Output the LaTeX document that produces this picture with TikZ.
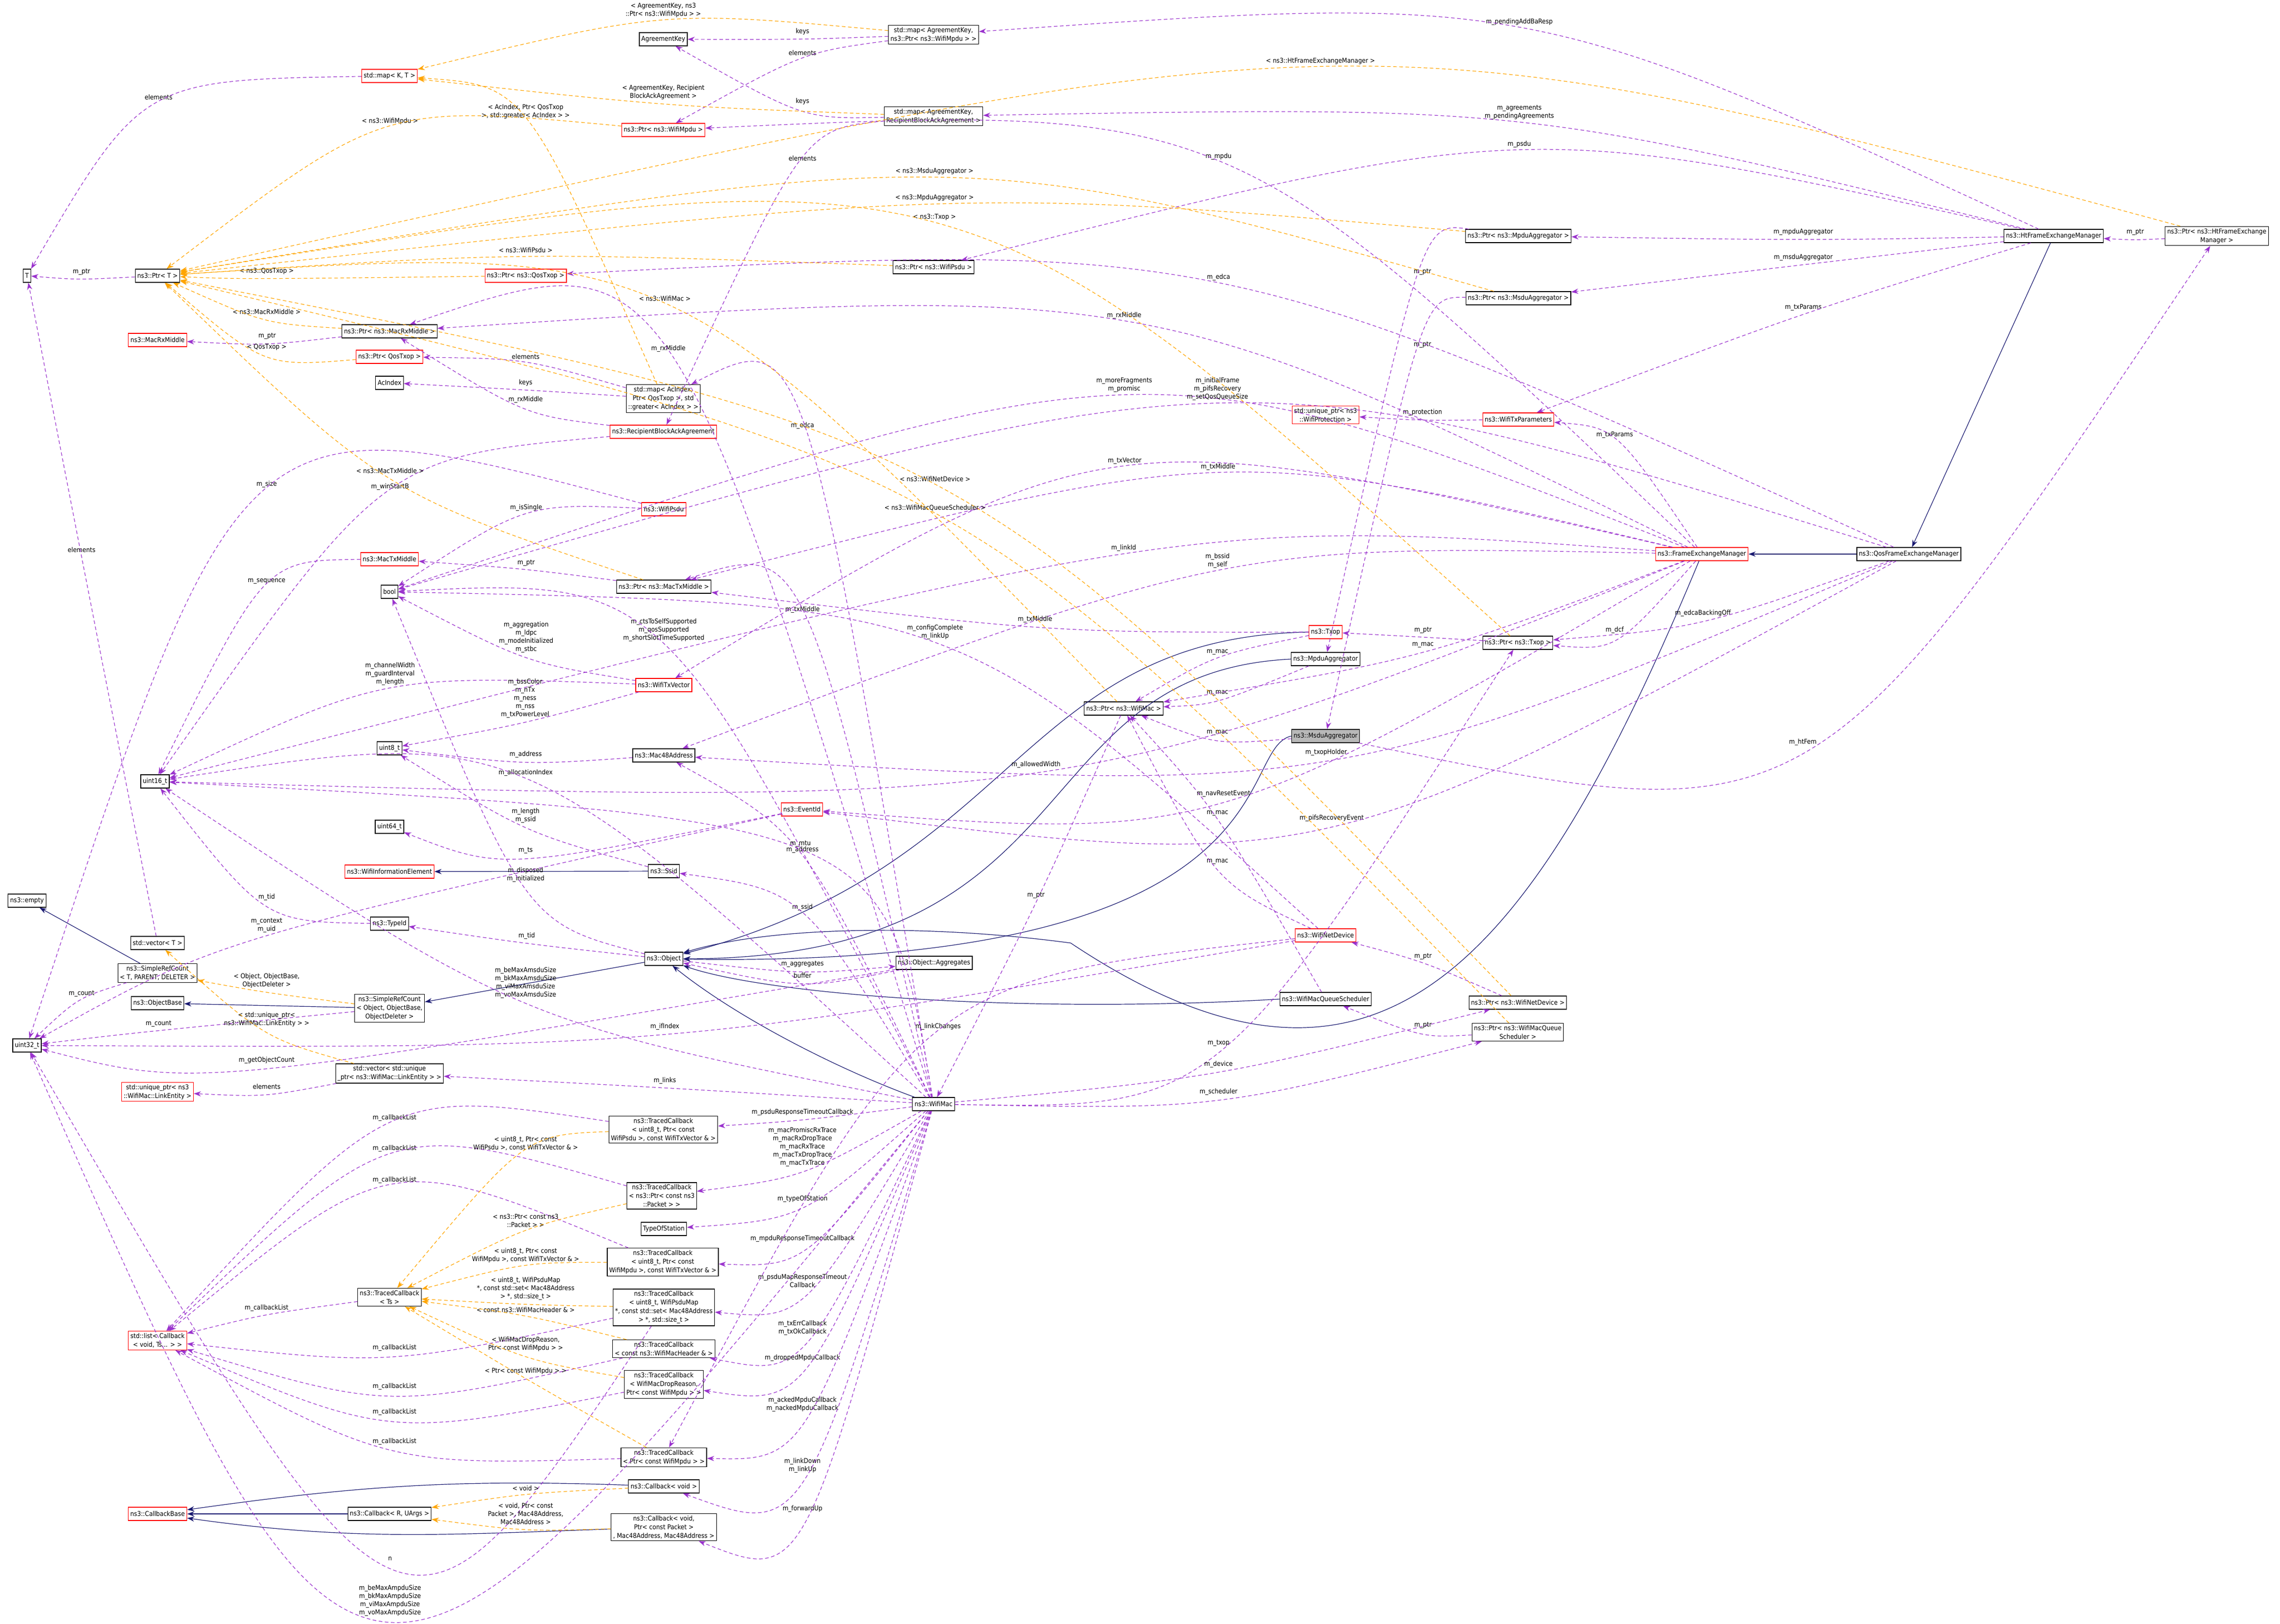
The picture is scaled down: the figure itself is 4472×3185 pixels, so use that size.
\documentclass[tikz,border=0pt]{standalone}
\usepackage{fontspec}
\setmainfont{DejaVu Sans Condensed}
\usetikzlibrary{arrows.meta,calc}
\definecolor{pcol}{HTML}{9A32CD}
\definecolor{ocol}{HTML}{FFA500}
\definecolor{ncol}{HTML}{191970}
\tikzset{
 box/.style={draw=black,line width=1.2pt,fill=white,inner sep=4pt,minimum height=26pt,align=center,font=\fontsize{13}{17}\selectfont},
 rbox/.style={box,draw=red},
 lbl/.style={align=center,inner sep=1pt,font=\fontsize{13}{16}\selectfont},
 pe/.style={draw=pcol,line width=1.2pt,dash pattern=on 7pt off 5pt,-{Stealth[length=14pt,width=10pt]}},
 oe/.style={draw=ocol,line width=1.2pt,dash pattern=on 7pt off 5pt,-{Stealth[length=14pt,width=10pt]}},
 ie/.style={draw=ncol,line width=1.2pt,-{Stealth[length=14pt,width=10pt]}},
}
\newcommand\mylink[5]{%
 \node[lbl] (lb) at (#4) {#5};
 \draw[#1] (#2) .. controls ($1.33333*(lb.south)+(0,9)-0.166667*(#2)-0.166667*(#3)$) .. (#3);
}
\begin{document}
\begin{tikzpicture}[x=1pt,y=-1pt]
\useasboundingbox (0,0) rectangle (4472,3185);
% nodes
\node[box] (T) at (53,541) {T};
\node[box] (PtrT) at (309,541) {ns3::Ptr< T >};
\node[rbox] (mapKT) at (764,149) {std::map< K, T >};
\node[box] (AgKey) at (1301,77) {AgreementKey};
\node[box] (mapAKM) at (1831,68) {std::map< AgreementKey,\\ ns3::Ptr< ns3::WifiMpdu > >};
\node[box] (mapAKR) at (1831,228) {std::map< AgreementKey,\\ RecipientBlockAckAgreement >};
\node[rbox] (PtrMpdu) at (1301,255) {ns3::Ptr< ns3::WifiMpdu >};
\node[box] (PtrMpduAgg) at (2978,463) {ns3::Ptr< ns3::MpduAggregator >};
\node[box] (PtrMsduAgg) at (2978,585) {ns3::Ptr< ns3::MsduAggregator >};
\node[box] (HtFEM) at (4028,463) {ns3::HtFrameExchangeManager};
\node[box] (PtrHtFEM) at (4348,463) {ns3::Ptr< ns3::HtFrameExchange\\ Manager >};
\node[rbox] (TxParams) at (2978,823) {ns3::WifiTxParameters};
\node[rbox] (uProt) at (2600,814) {std::unique\_ptr< ns3\\ ::WifiProtection >};
\node[box] (PtrPsdu) at (1831,524) {ns3::Ptr< ns3::WifiPsdu >};
\node[rbox] (PtrQos) at (1031,541) {ns3::Ptr< ns3::QosTxop >};
\node[box] (PtrRx) at (764,650) {ns3::Ptr< ns3::MacRxMiddle >};
\node[rbox] (Rx) at (309,667) {ns3::MacRxMiddle};
\node[rbox] (PtrQos2) at (764,700) {ns3::Ptr< QosTxop >};
\node[box] (AcIndex) at (764,751) {AcIndex};
\node[box] (mapAc) at (1301,782) {std::map< AcIndex,\\ Ptr< QosTxop >, std\\ ::greater< AcIndex > >};
\node[rbox] (RBA) at (1301,847) {ns3::RecipientBlockAckAgreement};
\node[rbox] (Psdu) at (1302,999) {ns3::WifiPsdu};
\node[rbox] (TxM) at (764,1097) {ns3::MacTxMiddle};
\node[box] (bool) at (764,1161) {bool};
\node[box] (PtrTx) at (1302,1151) {ns3::Ptr< ns3::MacTxMiddle >};
\node[rbox] (TxVec) at (1302,1344) {ns3::WifiTxVector};
\node[box] (u8) at (764,1468) {uint8\_t};
\node[box] (Mac48) at (1302,1482) {ns3::Mac48Address};
\node[box] (u16) at (304,1533) {uint16\_t};
\node[box] (u64) at (764,1622) {uint64\_t};
\node[rbox] (WIE) at (764,1710) {ns3::WifiInformationElement};
\node[box] (Ssid) at (1302,1709) {ns3::Ssid};
\node[box] (empty) at (53,1767) {ns3::empty};
\node[box] (TypeId) at (764,1812) {ns3::TypeId};
\node[box] (vecT) at (309,1850) {std::vector< T >};
\node[box] (SRCT) at (309,1909) {ns3::SimpleRefCount\\ < T, PARENT, DELETER >};
\node[box] (Obj) at (1302,1881) {ns3::Object};
\node[box] (ObjBase) at (309,1968) {ns3::ObjectBase};
\node[box] (SRCO) at (764,1978) {ns3::SimpleRefCount\\ < Object, ObjectBase,\\ ObjectDeleter >};
\node[box] (u32) at (53,2051) {uint32\_t};
\node[box] (vecU) at (764,2106) {std::vector< std::unique\\ \_ptr< ns3::WifiMac::LinkEntity > >};
\node[rbox] (uLE) at (309,2142) {std::unique\_ptr< ns3\\ ::WifiMac::LinkEntity >};
\node[box] (TCpsdu) at (1301,2216) {ns3::TracedCallback\\ < uint8\_t, Ptr< const\\ WifiPsdu >, const WifiTxVector \& >};
\node[box] (TCpkt) at (1298,2346) {ns3::TracedCallback\\ < ns3::Ptr< const ns3\\ ::Packet > >};
\node[box] (TOS) at (1302,2411) {TypeOfStation};
\node[box] (TCmpdu) at (1300,2476) {ns3::TracedCallback\\ < uint8\_t, Ptr< const\\ WifiMpdu >, const WifiTxVector \& >};
\node[box] (TCTs) at (764,2545) {ns3::TracedCallback\\ < Ts >};
\node[box] (TCmap) at (1302,2565) {ns3::TracedCallback\\ < uint8\_t, WifiPsduMap\\ *, const std::set< Mac48Address\\ > *, std::size\_t >};
\node[rbox] (list) at (309,2630) {std::list< Callback\\ < void, Ts... > >};
\node[box] (TChdr) at (1302,2646) {ns3::TracedCallback\\ < const ns3::WifiMacHeader \& >};
\node[box] (TCdrop) at (1302,2716) {ns3::TracedCallback\\ < WifiMacDropReason,\\ Ptr< const WifiMpdu > >};
\node[box] (TCptr) at (1302,2859) {ns3::TracedCallback\\ < Ptr< const WifiMpdu > >};
\node[box] (CbVoid) at (1302,2916) {ns3::Callback< void >};
\node[rbox] (CbBase) at (309,2970) {ns3::CallbackBase};
\node[box] (CbRU) at (764,2970) {ns3::Callback< R, UArgs >};
\node[box] (CbPkt) at (1302,2996) {ns3::Callback< void,\\ Ptr< const Packet >\\ , Mac48Address, Mac48Address >};
\node[box] (WifiMac) at (1831,2166) {ns3::WifiMac};
\node[rbox] (Txop) at (2600,1240) {ns3::Txop};
\node[box] (MpduAgg) at (2600,1293) {ns3::MpduAggregator};
\node[box] (PtrMac) at (2204,1390) {ns3::Ptr< ns3::WifiMac >};
\node[box,fill=black!28] (MsduAgg) at (2600,1444) {ns3::MsduAggregator};
\node[rbox] (EventId) at (1573,1588) {ns3::EventId};
\node[box] (ObjAgg) at (1832,1889) {ns3::Object::Aggregates};
\node[rbox] (NetDev) at (2600,1835) {ns3::WifiNetDevice};
\node[box] (Sched) at (2600,1960) {ns3::WifiMacQueueScheduler};
\node[rbox] (FEM) at (3338,1087) {ns3::FrameExchangeManager};
\node[box] (QosFEM) at (3744,1087) {ns3::QosFrameExchangeManager};
\node[box] (PtrTxop) at (2977,1261) {ns3::Ptr< ns3::Txop >};
\node[box] (PtrND) at (2977,1967) {ns3::Ptr< ns3::WifiNetDevice >};
\node[box] (PtrSched) at (2977,2025) {ns3::Ptr< ns3::WifiMacQueue\\ Scheduler >};
% inheritance
\draw[ie] (SRCT) -- (empty);
\draw[ie] (SRCO) -- (ObjBase);
\draw[ie] (Obj) -- (SRCO);
\draw[ie] (Ssid) -- (WIE);
\draw[ie] (QosFEM) -- (FEM);
\draw[ie] (HtFEM) -- (QosFEM);
\draw[ie] (CbVoid) to[out=178,in=8] (CbBase);
\draw[ie] (CbRU) -- (CbBase);
\draw[ie] (CbPkt) to[out=182,in=-8] (CbBase);
\draw[ie] (Txop.west) .. controls (2000,1250) and (2000,1700) .. (Obj);
\draw[ie] (MpduAgg.west) .. controls (2000,1320) and (2150,1880) .. (Obj);
\draw[ie] (MsduAgg.west) .. controls (2420,1470) and (2550,1900) .. (Obj);
\draw[ie] (Sched.west) .. controls (2000,1990) and (1500,1950) .. (Obj);
\draw[ie] (WifiMac) .. controls (1650,2100) and (1450,2000) .. (Obj);
\draw[ie] (FEM) .. controls (3000,1900) and (2700,2250) .. (2100,1850) .. controls (1800,1810) and (1500,1820) .. (Obj);
% purple members
\mylink{pe}{PtrT}{T}{160,533}{m\_ptr}
\mylink{pe}{mapKT}{T}{311,191}{elements}
\mylink{pe}{vecT}{T}{160,1079}{elements}
\mylink{pe}{PtrRx}{Rx}{524,659}{m\_ptr}
\mylink{pe}{mapAKM}{AgKey}{1574,62}{keys}
\mylink{pe}{mapAKM}{PtrMpdu}{1574,104}{elements}
\mylink{pe}{mapAKR}{AgKey}{1574,199}{keys}
\mylink{pe}{mapAKR}{RBA}{1574,311}{elements}
\mylink{pe}{HtFEM}{mapAKM}{2980,43}{m\_pendingAddBaResp}
\mylink{pe}{HtFEM}{mapAKR}{2980,220}{m\_agreements\\m\_pendingAgreements}
\mylink{pe}{HtFEM}{PtrPsdu}{2980,283}{m\_psdu}
\mylink{pe}{FEM}{PtrMpdu}{2390,307}{m\_mpdu}
\mylink{pe}{HtFEM}{PtrMpduAgg}{3537,455}{m\_mpduAggregator}
\mylink{pe}{HtFEM}{PtrMsduAgg}{3537,505}{m\_msduAggregator}
\mylink{pe}{HtFEM}{TxParams}{3537,603}{m\_txParams}
\mylink{pe}{PtrHtFEM}{HtFEM}{4188,455}{m\_ptr}
\mylink{pe}{MsduAgg}{PtrHtFEM}{3536,1456}{m\_htFem}
\mylink{pe}{PtrMpduAgg}{MpduAgg}{2790,533}{m\_ptr}
\mylink{pe}{PtrMsduAgg}{MsduAgg}{2790,676}{m\_ptr}
\mylink{pe}{TxParams}{uProt}{2790,809}{m\_protection}
\mylink{pe}{FEM}{TxParams}{3167,853}{m\_txParams}
\mylink{pe}{QosFEM}{PtrQos}{2390,544}{m\_edca}
\mylink{pe}{FEM}{PtrRx}{2205,619}{m\_rxMiddle}
\mylink{pe}{mapAc}{PtrQos2}{1031,700}{elements}
\mylink{pe}{mapAc}{AcIndex}{1031,751}{keys}
\mylink{pe}{RBA}{PtrRx}{1031,784}{m\_rxMiddle}
\mylink{pe}{WifiMac}{PtrRx}{1311,684}{m\_rxMiddle}
\mylink{pe}{WifiMac}{mapAc}{1574,835}{m\_edca}
\mylink{pe}{FEM}{bool}{2205,755}{m\_moreFragments\\m\_promisc}
\mylink{pe}{QosFEM}{bool}{2388,763}{m\_initialFrame\\m\_pifsRecovery\\m\_setQosQueueSize}
\mylink{pe}{FEM}{TxVec}{2206,904}{m\_txVector}
\mylink{pe}{FEM}{PtrTx}{2389,916}{m\_txMiddle}
\mylink{pe}{RBA}{u16}{765,955}{m\_winStartB}
\mylink{pe}{Psdu}{u32}{523,950}{m\_size}
\mylink{pe}{Psdu}{bool}{1032,996}{m\_isSingle}
\mylink{pe}{TxM}{u16}{523,1140}{m\_sequence}
\mylink{pe}{PtrTx}{TxM}{1032,1104}{m\_ptr}
\mylink{pe}{TxVec}{bool}{1032,1250}{m\_aggregation\\m\_ldpc\\m\_modeInitialized\\m\_stbc}
\mylink{pe}{TxVec}{u16}{765,1322}{m\_channelWidth\\m\_guardInterval\\m\_length}
\mylink{pe}{TxVec}{u8}{1030,1370}{m\_bssColor\\m\_nTx\\m\_ness\\m\_nss\\m\_txPowerLevel}
\mylink{pe}{WifiMac}{bool}{1302,1236}{m\_ctsToSelfSupported\\m\_qosSupported\\m\_shortSlotTimeSupported}
\mylink{pe}{Mac48}{u8}{1031,1480}{m\_address}
\mylink{pe}{WifiMac}{u16}{1031,1516}{m\_allocationIndex}
\mylink{pe}{Ssid}{u8}{1031,1600}{m\_length\\m\_ssid}
\mylink{pe}{EventId}{u64}{1031,1668}{m\_ts}
\mylink{pe}{Obj}{bool}{1031,1716}{m\_disposed\\m\_initialized}
\mylink{pe}{TypeId}{u16}{523,1760}{m\_tid}
\mylink{pe}{Obj}{TypeId}{1033,1836}{m\_tid}
\mylink{pe}{EventId}{u32}{523,1815}{m\_context\\m\_uid}
\mylink{pe}{SRCT}{u32}{160,1949}{m\_count}
\mylink{pe}{SRCO}{u32}{311,2008}{m\_count}
\mylink{pe}{WifiMac}{u16}{1031,1928}{m\_beMaxAmsduSize\\m\_bkMaxAmsduSize\\m\_viMaxAmsduSize\\m\_voMaxAmsduSize}
\mylink{pe}{ObjAgg}{u32}{523,2080}{m\_getObjectCount}
\mylink{pe}{vecU}{uLE}{523,2132}{elements}
\mylink{pe}{WifiMac}{vecU}{1304,2120}{m\_links}
\mylink{pe}{NetDev}{u32}{1304,2014}{m\_ifIndex}
\mylink{pe}{WifiMac}{TCpsdu}{1574,2182}{m\_psduResponseTimeoutCallback}
\mylink{pe}{WifiMac}{TCpkt}{1574,2250}{m\_macPromiscRxTrace\\m\_macRxDropTrace\\m\_macRxTrace\\m\_macTxDropTrace\\m\_macTxTrace}
\mylink{pe}{WifiMac}{TOS}{1574,2352}{m\_typeOfStation}
\mylink{pe}{WifiMac}{TCmpdu}{1574,2430}{m\_mpduResponseTimeoutCallback}
\mylink{pe}{WifiMac}{TCmap}{1574,2513}{m\_psduMapResponseTimeout\\Callback}
\mylink{pe}{WifiMac}{TChdr}{1574,2605}{m\_txErrCallback\\m\_txOkCallback}
\mylink{pe}{WifiMac}{TCdrop}{1574,2664}{m\_droppedMpduCallback}
\mylink{pe}{WifiMac}{TCptr}{1574,2755}{m\_ackedMpduCallback\\m\_nackedMpduCallback}
\mylink{pe}{WifiMac}{CbVoid}{1574,2875}{m\_linkDown\\m\_linkUp}
\mylink{pe}{WifiMac}{CbPkt}{1574,2960}{m\_forwardUp}
\mylink{pe}{WifiMac}{u32}{765,3140}{m\_beMaxAmpduSize\\m\_bkMaxAmpduSize\\m\_viMaxAmpduSize\\m\_voMaxAmpduSize}
\mylink{pe}{TCmap}{u32}{765,3058}{n}
\mylink{pe}{TCpsdu}{list}{774,2193}{m\_callbackList}
\mylink{pe}{TCpkt}{list}{774,2253}{m\_callbackList}
\mylink{pe}{TCmpdu}{list}{774,2315}{m\_callbackList}
\mylink{pe}{TCTs}{list}{523,2566}{m\_callbackList}
\mylink{pe}{TCmap}{list}{774,2644}{m\_callbackList}
\mylink{pe}{TChdr}{list}{774,2720}{m\_callbackList}
\mylink{pe}{TCdrop}{list}{774,2770}{m\_callbackList}
\mylink{pe}{TCptr}{list}{774,2828}{m\_callbackList}
\mylink{pe}{WifiMac}{Mac48}{1574,1667}{m\_address}
\mylink{pe}{WifiMac}{u16}{1570,1655}{m\_mtu}
\mylink{pe}{WifiMac}{Ssid}{1574,1780}{m\_ssid}
\mylink{pe}{Obj}{ObjAgg}{1574,1891}{m\_aggregates}
\mylink{pe}{ObjAgg}{Obj}{1574,1914}{buffer}
\mylink{pe}{NetDev}{TCptr}{1840,2014}{m\_linkChanges}
\mylink{pe}{FEM}{u16}{2204,1075}{m\_linkId}
\mylink{pe}{FEM}{Mac48}{2388,1100}{m\_bssid\\m\_self}
\mylink{pe}{WifiMac}{PtrTx}{1574,1196}{m\_txMiddle}
\mylink{pe}{Txop}{PtrTx}{2030,1215}{m\_txMiddle}
\mylink{pe}{NetDev}{bool}{1834,1240}{m\_configComplete\\m\_linkUp}
\mylink{pe}{Txop}{PtrMac}{2388,1279}{m\_mac}
\mylink{pe}{MpduAgg}{PtrMac}{2388,1359}{m\_mac}
\mylink{pe}{MsduAgg}{PtrMac}{2388,1437}{m\_mac}
\mylink{pe}{Sched}{PtrMac}{2388,1595}{m\_mac}
\mylink{pe}{NetDev}{PtrMac}{2388,1690}{m\_mac}
\mylink{pe}{FEM}{PtrMac}{2791,1265}{m\_mac}
\mylink{pe}{FEM}{u16}{2032,1500}{m\_allowedWidth}
\mylink{pe}{QosFEM}{Mac48}{2601,1476}{m\_txopHolder}
\mylink{pe}{FEM}{EventId}{2400,1557}{m\_navResetEvent}
\mylink{pe}{QosFEM}{EventId}{2612,1605}{m\_pifsRecoveryEvent}
\mylink{pe}{PtrMac}{WifiMac}{2032,1756}{m\_ptr}
\mylink{pe}{PtrTxop}{Txop}{2791,1236}{m\_ptr}
\mylink{pe}{WifiMac}{PtrTxop}{2390,2046}{m\_txop}
\mylink{pe}{FEM}{PtrTxop}{3167,1236}{m\_dcf}
\mylink{pe}{QosFEM}{PtrTxop}{3340,1203}{m\_edcaBackingOff}
\mylink{pe}{PtrND}{NetDev}{2791,1876}{m\_ptr}
\mylink{pe}{WifiMac}{PtrND}{2390,2088}{m\_device}
\mylink{pe}{PtrSched}{Sched}{2791,2011}{m\_ptr}
\mylink{pe}{WifiMac}{PtrSched}{2390,2142}{m\_scheduler}
% orange template instances
\mylink{oe}{mapAKM}{mapKT}{1301,20}{< AgreementKey, ns3\\::Ptr< ns3::WifiMpdu > >}
\mylink{oe}{mapAKR}{mapKT}{1301,181}{< AgreementKey, Recipient\\BlockAckAgreement >}
\mylink{oe}{mapAc}{mapKT}{1031,219}{< AcIndex, Ptr< QosTxop\\>, std::greater< AcIndex > >}
\mylink{oe}{PtrMpdu}{PtrT}{765,238}{< ns3::WifiMpdu >}
\mylink{oe}{PtrHtFEM}{PtrT}{2590,120}{< ns3::HtFrameExchangeManager >}
\mylink{oe}{PtrMsduAgg}{PtrT}{1833,336}{< ns3::MsduAggregator >}
\mylink{oe}{PtrMpduAgg}{PtrT}{1833,388}{< ns3::MpduAggregator >}
\mylink{oe}{PtrTxop}{PtrT}{1833,426}{< ns3::Txop >}
\mylink{oe}{PtrPsdu}{PtrT}{1031,491}{< ns3::WifiPsdu >}
\mylink{oe}{PtrQos}{PtrT}{523,532}{< ns3::QosTxop >}
\mylink{oe}{PtrMac}{PtrT}{1304,586}{< ns3::WifiMac >}
\mylink{oe}{PtrRx}{PtrT}{523,612}{< ns3::MacRxMiddle >}
\mylink{oe}{PtrQos2}{PtrT}{523,681}{< QosTxop >}
\mylink{oe}{PtrTx}{PtrT}{765,924}{< ns3::MacTxMiddle >}
\mylink{oe}{PtrND}{PtrT}{1834,940}{< ns3::WifiNetDevice >}
\mylink{oe}{PtrSched}{PtrT}{1834,996}{< ns3::WifiMacQueueScheduler >}
\mylink{oe}{SRCO}{SRCT}{523,1924}{< Object, ObjectBase,\\ObjectDeleter >}
\mylink{oe}{vecU}{vecT}{523,2000}{< std::unique\_ptr<\\ns3::WifiMac::LinkEntity > >}
\mylink{oe}{TCpsdu}{TCTs}{1031,2243}{< uint8\_t, Ptr< const\\WifiPsdu >, const WifiTxVector \& >}
\mylink{oe}{TCpkt}{TCTs}{1031,2395}{< ns3::Ptr< const ns3\\::Packet > >}
\mylink{oe}{TCmpdu}{TCTs}{1031,2463}{< uint8\_t, Ptr< const\\WifiMpdu >, const WifiTxVector \& >}
\mylink{oe}{TCmap}{TCTs}{1031,2528}{< uint8\_t, WifiPsduMap\\*, const std::set< Mac48Address\\> *, std::size\_t >}
\mylink{oe}{TChdr}{TCTs}{1031,2570}{< const ns3::WifiMacHeader \& >}
\mylink{oe}{TCdrop}{TCTs}{1031,2637}{< WifiMacDropReason,\\Ptr< const WifiMpdu > >}
\mylink{oe}{TCptr}{TCTs}{1031,2690}{< Ptr< const WifiMpdu > >}
\mylink{oe}{CbVoid}{CbRU}{1031,2920}{< void >}
\mylink{oe}{CbPkt}{CbRU}{1031,2970}{< void, Ptr< const\\Packet >, Mac48Address,\\Mac48Address >}
\end{tikzpicture}
\end{document}
